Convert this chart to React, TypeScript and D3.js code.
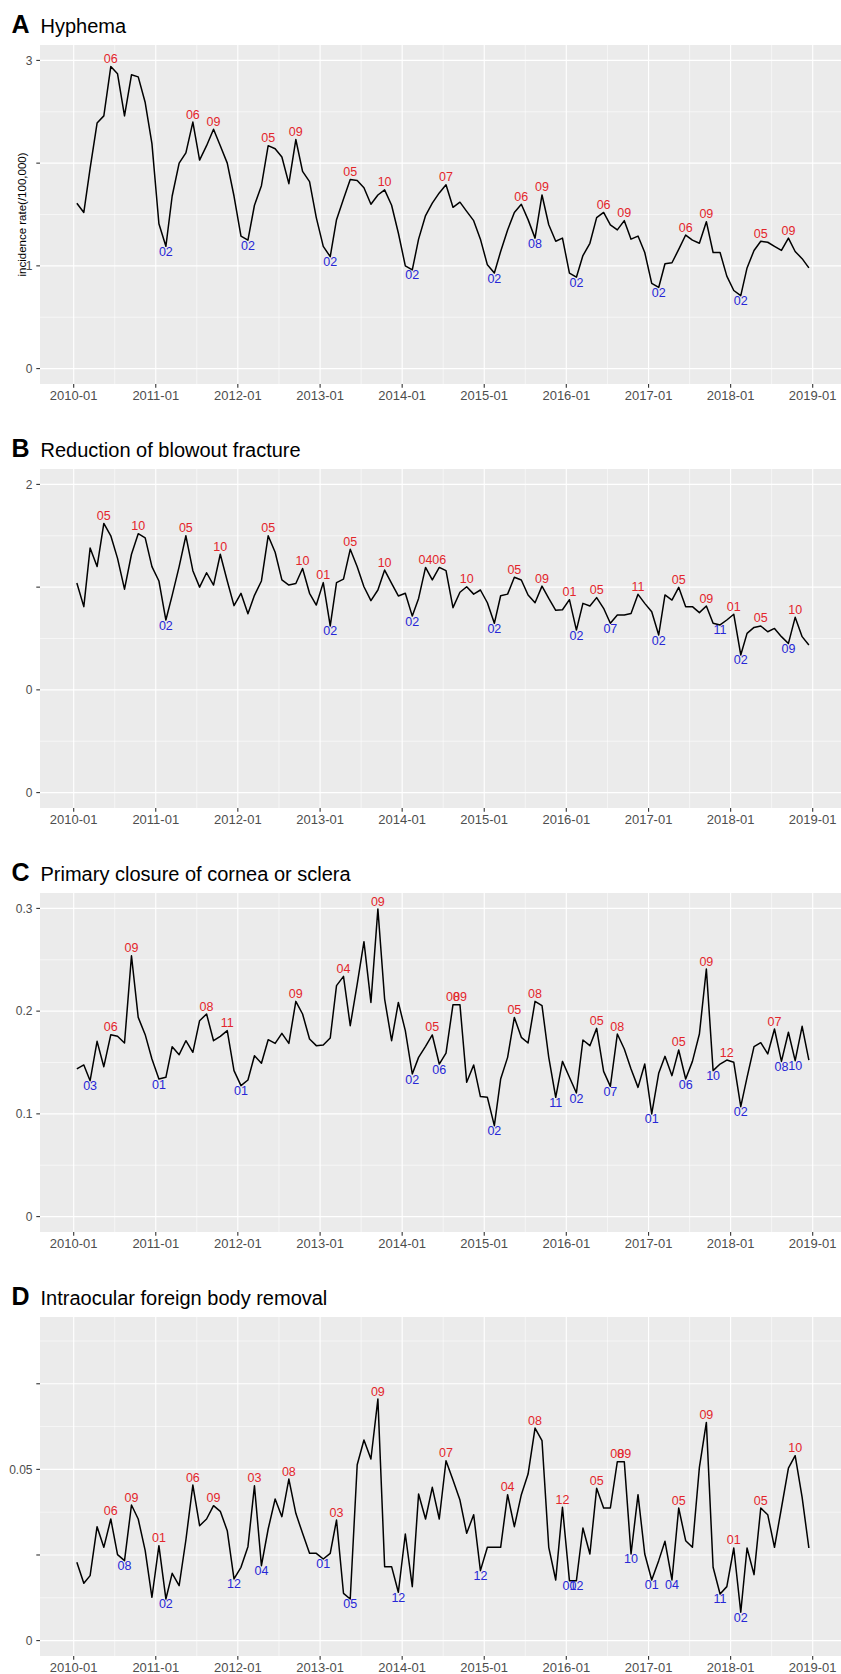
import * as d3 from "d3";

// ---- data (monthly, 2010-01 .. 2018-12) ----
const hyphema = [
  1.61, 1.52, 1.95, 2.39, 2.46, 2.94, 2.87, 2.46, 2.86, 2.84, 2.59, 2.19,
  1.41, 1.19, 1.68, 2.0, 2.1, 2.4, 2.03, 2.17, 2.33, 2.17, 2.0, 1.68,
  1.29, 1.25, 1.59, 1.78, 2.17, 2.14, 2.06, 1.8, 2.23, 1.92, 1.82, 1.47,
  1.19, 1.09, 1.45, 1.65, 1.84, 1.83, 1.76, 1.6, 1.69, 1.74, 1.59, 1.32,
  1.0, 0.96, 1.26, 1.49, 1.61, 1.71, 1.79, 1.57, 1.62, 1.53, 1.44, 1.26,
  1.01, 0.93, 1.14, 1.35, 1.52, 1.6, 1.45, 1.27, 1.69, 1.4, 1.24, 1.27,
  0.93, 0.89, 1.1, 1.22, 1.47, 1.52, 1.4, 1.35, 1.44, 1.26, 1.29, 1.13,
  0.83, 0.79, 1.02, 1.03, 1.16, 1.3, 1.25, 1.22, 1.43, 1.13, 1.13, 0.9,
  0.76, 0.71, 0.98, 1.15, 1.24, 1.23, 1.19, 1.15, 1.27, 1.14, 1.07, 0.98,
];
const blowout = [
  1.02, 0.905, 1.19, 1.1, 1.31, 1.25, 1.14, 0.99, 1.16, 1.26, 1.24, 1.1,
  1.03, 0.84, 0.96, 1.1, 1.25, 1.08, 1.0, 1.07, 1.01, 1.16, 1.03, 0.91,
  0.97, 0.87, 0.96, 1.03, 1.25, 1.17, 1.035, 1.01, 1.018, 1.091, 0.97, 0.913,
  1.022, 0.811, 1.022, 1.039, 1.184, 1.099, 1.002, 0.934, 0.986, 1.083, 1.018, 0.957,
  0.97, 0.859, 0.945, 1.096, 1.035, 1.096, 1.08, 0.9, 0.975, 1.002, 0.966, 0.986,
  0.924, 0.824, 0.958, 0.966, 1.048, 1.035, 0.962, 0.924, 1.005, 0.945, 0.887, 0.89,
  0.939, 0.791, 0.921, 0.908, 0.949, 0.897, 0.824, 0.864, 0.864, 0.872, 0.965, 0.921,
  0.88, 0.767, 0.962, 0.937, 0.999, 0.905, 0.905, 0.876, 0.908, 0.824, 0.816, 0.84,
  0.868, 0.67, 0.775, 0.804, 0.811, 0.783, 0.799, 0.759, 0.726, 0.853, 0.759, 0.718,
];
const closure = [
  0.1437, 0.1476, 0.1323, 0.1706, 0.1459, 0.1771, 0.1755, 0.169, 0.2539, 0.1939, 0.1771, 0.1534,
  0.1339, 0.1356, 0.1654, 0.1576, 0.1712, 0.1599, 0.1907, 0.1972, 0.1712, 0.1755, 0.181, 0.1421,
  0.1275, 0.133, 0.1566, 0.1492, 0.1722, 0.1686, 0.1784, 0.1686, 0.2095, 0.1972, 0.1729, 0.1664,
  0.167, 0.1738, 0.2248, 0.2338, 0.1858, 0.2264, 0.2676, 0.2085, 0.2994, 0.2118, 0.1712, 0.2085,
  0.181, 0.1388, 0.155, 0.1657, 0.1768, 0.1485, 0.1592, 0.2063, 0.2063, 0.1307, 0.1476, 0.1168,
  0.1161, 0.0885, 0.1339, 0.155, 0.1939, 0.1745, 0.169, 0.2095, 0.2053, 0.155, 0.1161, 0.1511,
  0.1356, 0.1203, 0.1719, 0.1664, 0.1832, 0.1414, 0.1268, 0.1777, 0.1631, 0.1437, 0.1258, 0.1485,
  0.0999, 0.1395, 0.156, 0.1372, 0.1622, 0.1339, 0.1511, 0.1777, 0.241, 0.1421, 0.1485, 0.1524,
  0.1502, 0.107, 0.1356, 0.1654, 0.1693, 0.1583, 0.1826, 0.1511, 0.1794, 0.1518, 0.1852, 0.1524,
];
const foreignBody = [
  0.02286, 0.01673, 0.01897, 0.03327, 0.02724, 0.03551, 0.0251, 0.02335, 0.03959, 0.03551, 0.02626, 0.01265,
  0.02772, 0.01216, 0.01965, 0.01605, 0.02938, 0.04543, 0.03356, 0.03551, 0.0394, 0.03774, 0.0321, 0.018,
  0.0214, 0.02743, 0.04523, 0.02189, 0.03259, 0.04134, 0.03619, 0.04718, 0.03716, 0.03132, 0.02549, 0.02549,
  0.02383, 0.02549, 0.03521, 0.01381, 0.01216, 0.05136, 0.05856, 0.05302, 0.07053, 0.0216, 0.0216, 0.01411,
  0.03113, 0.01576, 0.0428, 0.03551, 0.04475, 0.03551, 0.05253, 0.04689, 0.04105, 0.03132, 0.03677, 0.02043,
  0.02724, 0.02724, 0.02724, 0.04261, 0.03327, 0.04261, 0.04864, 0.06206, 0.05837, 0.02724, 0.0177, 0.03891,
  0.01751, 0.01751, 0.03288, 0.02529, 0.04446, 0.03872, 0.03872, 0.05224, 0.05224, 0.02529, 0.04261, 0.02529,
  0.0177, 0.02335, 0.02899, 0.0177, 0.03872, 0.02918, 0.02724, 0.05058, 0.06372, 0.0214, 0.01362, 0.01576,
  0.02704, 0.00827, 0.02704, 0.01926, 0.03872, 0.03677, 0.02724, 0.03872, 0.05039, 0.05399, 0.04183, 0.02704,
];

// month indexes (0 = 2010-01) of labelled peaks (red) and troughs (blue)
const hyphemaPeaks = [5, 17, 20, 28, 32, 40, 45, 54, 65, 68, 77, 80, 89, 92, 100, 104];
const hyphemaTroughs = [13, 25, 37, 49, 61, 67, 73, 85, 97];
const blowoutPeaks = [4, 9, 16, 21, 28, 33, 36, 40, 45, 51, 53, 57, 64, 68, 72, 76, 82, 88, 92, 96, 100, 105];
const blowoutTroughs = [13, 37, 49, 61, 73, 78, 85, 94, 97, 104];
const closurePeaks = [5, 8, 19, 22, 32, 39, 44, 52, 55, 56, 64, 67, 76, 79, 88, 92, 95, 102];
const closureTroughs = [2, 12, 24, 49, 53, 61, 70, 73, 78, 84, 89, 93, 97, 103, 105];
const foreignPeaks = [5, 8, 12, 17, 20, 26, 31, 38, 44, 54, 63, 67, 71, 76, 79, 80, 88, 92, 96, 100, 105];
const foreignTroughs = [7, 13, 23, 27, 36, 40, 47, 59, 72, 73, 81, 84, 87, 94, 97];

const letters = ["A", "B", "C", "D"];
const titles = ["Hyphema", "Reduction of blowout fracture", "Primary closure of cornea or sclera", "Intraocular foreign body removal"];
const yLimits = [[0, 3], [0, 1.5], [0, 0.3], [0, 0.09]];
const yTicks = [[0, 1, 2, 3], [0, 0.5, 1, 1.5], [0, 0.1, 0.2, 0.3], [0, 0.025, 0.05, 0.075]];
const yTickLabels = [["0", "1", "", "3"], ["0", "0", "", "2"], ["0", "0.1", "0.2", "0.3"], ["0", "", "0.05", ""]];
const yTitle = "incidence rate(/100,000)";

const months = d3.range(108).map(i => new Date(2010, i, 15));
const years = d3.timeYear.range(new Date(2010, 0, 1), new Date(2019, 0, 2));

const FONT = "'Liberation Sans', Arial, Helvetica, sans-serif";
const RED = "#E3262B", BLUE = "#2727D6";
const L = 40, R = 841, TOP0 = 45, STEP = 424, PH = 339;

const x = d3.scaleTime().domain([new Date(2010, 0, 1), new Date(2019, 0, 1)]).range([73.7, 812.7]);

function Panel({ i, values, peaks, troughs }) {
  const top = TOP0 + STEP * i, bot = top + PH;
  const [lo, hi] = yLimits[i], pad = (hi - lo) * 0.05;
  const y = d3.scaleLinear().domain([lo - pad, hi + pad]).range([bot, top]);
  const ticks = yTicks[i], step = ticks[1] - ticks[0];
  const minorY = d3.range(ticks[0] - step / 2, hi + pad + step, step).filter(v => y(v) >= top && y(v) <= bot);
  const xs = years.map(d => x(d));
  const minorX = d3.range(xs.length + 1).map(k => k === 0 ? xs[0] - (xs[1] - xs[0]) / 2 : k === xs.length ? xs[k - 1] + (xs[1] - xs[0]) / 2 : (xs[k - 1] + xs[k]) / 2).filter(v => v > L && v < R);
  const line = d3.line<number>().x((_, k) => x(months[k])).y(v => y(v));
  const fmt = d3.timeFormat("%m");
  return (
    <g>
      <text x={11.5} y={top - 12.5} fontSize={25} fontWeight="bold" fill="#000">{letters[i]}</text>
      <text x={40.5} y={top - 12.5} fontSize={20} fill="#000">{titles[i]}</text>
      <rect x={L} y={top} width={R - L} height={PH} fill="#EBEBEB" />
      {minorY.map((v, k) => <line key={"my" + k} x1={L} x2={R} y1={y(v)} y2={y(v)} stroke="#fff" strokeWidth={0.55} />)}
      {minorX.map((v, k) => <line key={"mx" + k} x1={v} x2={v} y1={top} y2={bot} stroke="#fff" strokeWidth={0.55} />)}
      {ticks.map((v, k) => <line key={"gy" + k} x1={L} x2={R} y1={y(v)} y2={y(v)} stroke="#fff" strokeWidth={1.1} />)}
      {xs.map((v, k) => <line key={"gx" + k} x1={v} x2={v} y1={top} y2={bot} stroke="#fff" strokeWidth={1.1} />)}
      <path d={line(values) || ""} fill="none" stroke="#000" strokeWidth={1.5} strokeLinejoin="round" />
      {peaks.map(k => <text key={"p" + k} x={x(months[k])} y={y(values[k]) - 3.5} textAnchor="middle" fontSize={12.5} fill={RED}>{fmt(months[k])}</text>)}
      {troughs.map(k => <text key={"t" + k} x={x(months[k])} y={y(values[k]) + 9.5} textAnchor="middle" fontSize={12.5} fill={BLUE}>{fmt(months[k])}</text>)}
      {ticks.map((v, k) => (
        <g key={"ty" + k}>
          <line x1={36.3} x2={L} y1={y(v)} y2={y(v)} stroke="#333" strokeWidth={1.1} />
          <text x={32.5} y={y(v)} dy="0.35em" textAnchor="end" fontSize={12} fill="#4D4D4D">{yTickLabels[i][k]}</text>
        </g>
      ))}
      {years.map((d, k) => (
        <g key={"tx" + k}>
          <line x1={x(d)} x2={x(d)} y1={bot} y2={bot + 3.7} stroke="#333" strokeWidth={1.1} />
          <text x={x(d)} y={bot + 16} textAnchor="middle" fontSize={13} fill="#4D4D4D">{d3.timeFormat("%Y-%m")(d)}</text>
        </g>
      ))}
      {i === 0 && (
        <text transform={`translate(22,${(top + bot) / 2}) rotate(-90)`} dy="0.35em" textAnchor="middle" fontSize={11.5} fill="#000">{yTitle}</text>
      )}
    </g>
  );
}

export default function App() {
  const series = [hyphema, blowout, closure, foreignBody];
  const peaks = [hyphemaPeaks, blowoutPeaks, closurePeaks, foreignPeaks];
  const troughs = [hyphemaTroughs, blowoutTroughs, closureTroughs, foreignTroughs];
  return (
    <svg width={841} height={1674} viewBox="0 0 841 1674"
      style={{ position: "absolute", left: 0, top: 0, display: "block", background: "#fff", fontFamily: FONT }}>
      <rect width={841} height={1674} fill="#fff" />
      {series.map((v, i) => <Panel key={i} i={i} values={v} peaks={peaks[i]} troughs={troughs[i]} />)}
    </svg>
  );
}
